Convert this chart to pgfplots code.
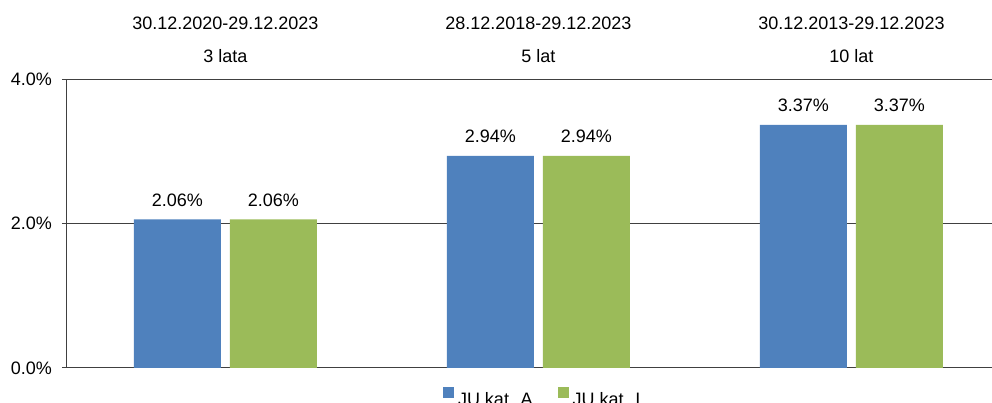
\documentclass[border=0pt]{standalone}
\usepackage{pgfplots}
\pgfplotsset{compat=1.18}
\usepackage{fontspec}
\setmainfont{Liberation Sans}
\definecolor{serA}{HTML}{4F81BD}
\definecolor{serI}{HTML}{9BBB59}
\definecolor{axgray}{HTML}{404040}
\begin{document}
\fontsize{18}{21.6}\selectfont
\begin{tikzpicture}
\path[use as bounding box] (0,0) rectangle (992pt,403pt);
\clip (0,0) rectangle (992pt,403pt);
\begin{axis}[
  at={(67pt,35pt)}, anchor=south west,
  scale only axis, width=925pt, height=288.5pt,
  xmin=-0.506, xmax=2.449, ymin=0, ymax=4,
  axis lines*=left,
  axis line style={axgray, line width=1pt},
  xtick=\empty,
  ytick={0,2,4},
  /pgf/number format/assume math mode=true,
  yticklabel={\pgfmathprintnumber[fixed,fixed zerofill,precision=1]{\tick}\%},
  tick align=outside, major tick length=5pt,
  tick style={axgray, line width=1pt},
  yticklabel style={inner sep=0pt, xshift=-10pt},
  ymajorgrids, grid style={axgray, line width=1pt},
  bar width=87pt,
  nodes near coords={\pgfmathprintnumber[fixed,fixed zerofill,precision=2]{\pgfplotspointmeta}\%},
  every node near coord/.append style={anchor=south, inner sep=0pt, yshift=13pt, text=black},
  clip=false,
  legend columns=2,
  legend style={draw=none, fill=none, at={(rel axis cs:0.4065,-0.0658)}, anchor=north west,
    inner sep=0pt, outer sep=0pt, nodes={inner sep=0pt},
    /tikz/every odd column/.append style={column sep=4pt},
    /tikz/every even column/.append style={column sep=25pt}},
]
\addplot[ybar, bar shift=-48pt, fill=serA, draw=none,
  every node near coord/.append style={xshift=-48pt},
  legend image code/.code={\fill[serA] (0pt,2pt) rectangle (11pt,13pt);}]
  coordinates {(0,2.06) (1,2.94) (2,3.37)};
\addlegendentry{JU kat. A}
\addplot[ybar, bar shift=48pt, fill=serI, draw=none,
  every node near coord/.append style={xshift=48pt},
  legend image code/.code={\fill[serI] (0pt,2pt) rectangle (11pt,13pt);}]
  coordinates {(0,2.06) (1,2.94) (2,3.37)};
\addlegendentry{JU kat. I}
\node[anchor=base, yshift=49.5pt] at (axis cs:0,4) {30.12.2020-29.12.2023};
\node[anchor=base, yshift=16.5pt] at (axis cs:0,4) {3 lata};
\node[anchor=base, yshift=49.5pt] at (axis cs:1,4) {28.12.2018-29.12.2023};
\node[anchor=base, yshift=16.5pt] at (axis cs:1,4) {5 lat};
\node[anchor=base, yshift=49.5pt] at (axis cs:2,4) {30.12.2013-29.12.2023};
\node[anchor=base, yshift=16.5pt] at (axis cs:2,4) {10 lat};
\end{axis}
\end{tikzpicture}
\end{document}
